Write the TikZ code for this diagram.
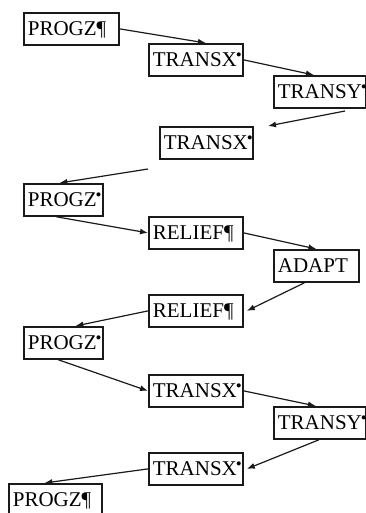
\documentclass[tikz,border=0pt]{standalone}
\usepackage{fontspec}
\setmainfont{Liberation Serif}
\newfontfamily\stagefont{Liberation Serif}
\usepackage{xcolor}
\usepackage{tikz}
\usetikzlibrary{arrows.meta}
\definecolor{StageLine}{HTML}{1A1A1A}
\newcommand\cutmark{\rlap{\kern-1pt\raisebox{0.32em}{\fontsize{17}{17}\selectfont •}}}

\tikzset{
  stagebox/.style={draw=StageLine,line width=1.8pt,fill=white,inner xsep=4pt,inner ysep=0pt,
    minimum height=32pt,text height=14pt,text depth=0pt,align=left,anchor=north west,
    font=\stagefont\fontsize{21}{24}\selectfont},
  flow/.style={draw=StageLine,line width=1.2pt,-{Latex[length=8pt,width=6pt]}}
}

\begin{document}
\begin{tikzpicture}[x=1pt,y=1pt]
\useasboundingbox (0,0) rectangle (366,-513);
\foreach \nm/\x/\y/\w/\lab in {p1/23/12/87/{PROGZ¶},t1/148/43/86/{TRANSX\cutmark},
  s1/273/75/84/{TRANSY\cutmark},t2/159/126/85/{TRANSX\cutmark},p2/23/183/71/{PROGZ\cutmark},
  r1/148/216/86/{RELIEF¶},a1/273/249/77/{ADAPT},r2/148/294/86/{RELIEF¶},
  p3/23/326/71/{PROGZ\cutmark},t3/148/374/86/{TRANSX\cutmark},s2/273/406/84/{TRANSY\cutmark},
  t4/148/452/86/{TRANSX\cutmark},p4/8/483/85/{PROGZ¶}} {
  \node[stagebox,text width=\w pt] (\nm) at (\x,-\y) {\lab};
}
% loose ends of the middle jump
\coordinate (f1) at (345,-111);
\coordinate (f2) at (268,-126);
\coordinate (f3) at (148,-169);

\draw[flow] (p1.east) -- ([xshift=10pt]t1.north);
\draw[flow] (t1.east) -- ([xshift=-6pt]s1.north);
\draw[flow] (f1) -- (f2);
\draw[flow] (f3) -- ([xshift=-4pt]p2.north);
\draw[flow] ([xshift=-7pt]p2.south) -- (r1.west);
\draw[flow] (r1.east) -- (a1.north);
\draw[flow] ([xshift=-12pt]a1.south) -- ([xshift=3pt]r2.east);
\draw[flow] (r2.west) -- ([xshift=12pt]p3.north);
\draw[flow] ([xshift=-5pt]p3.south) -- (t3.west);
\draw[flow] (t3.east) -- ([xshift=-4pt]s2.north);
\draw[flow] ([xshift=-1pt]s2.south) -- ([xshift=3pt]t4.east);
\draw[flow] (t4.west) -- ([xshift=-11pt]p4.north);
\end{tikzpicture}
\end{document}
